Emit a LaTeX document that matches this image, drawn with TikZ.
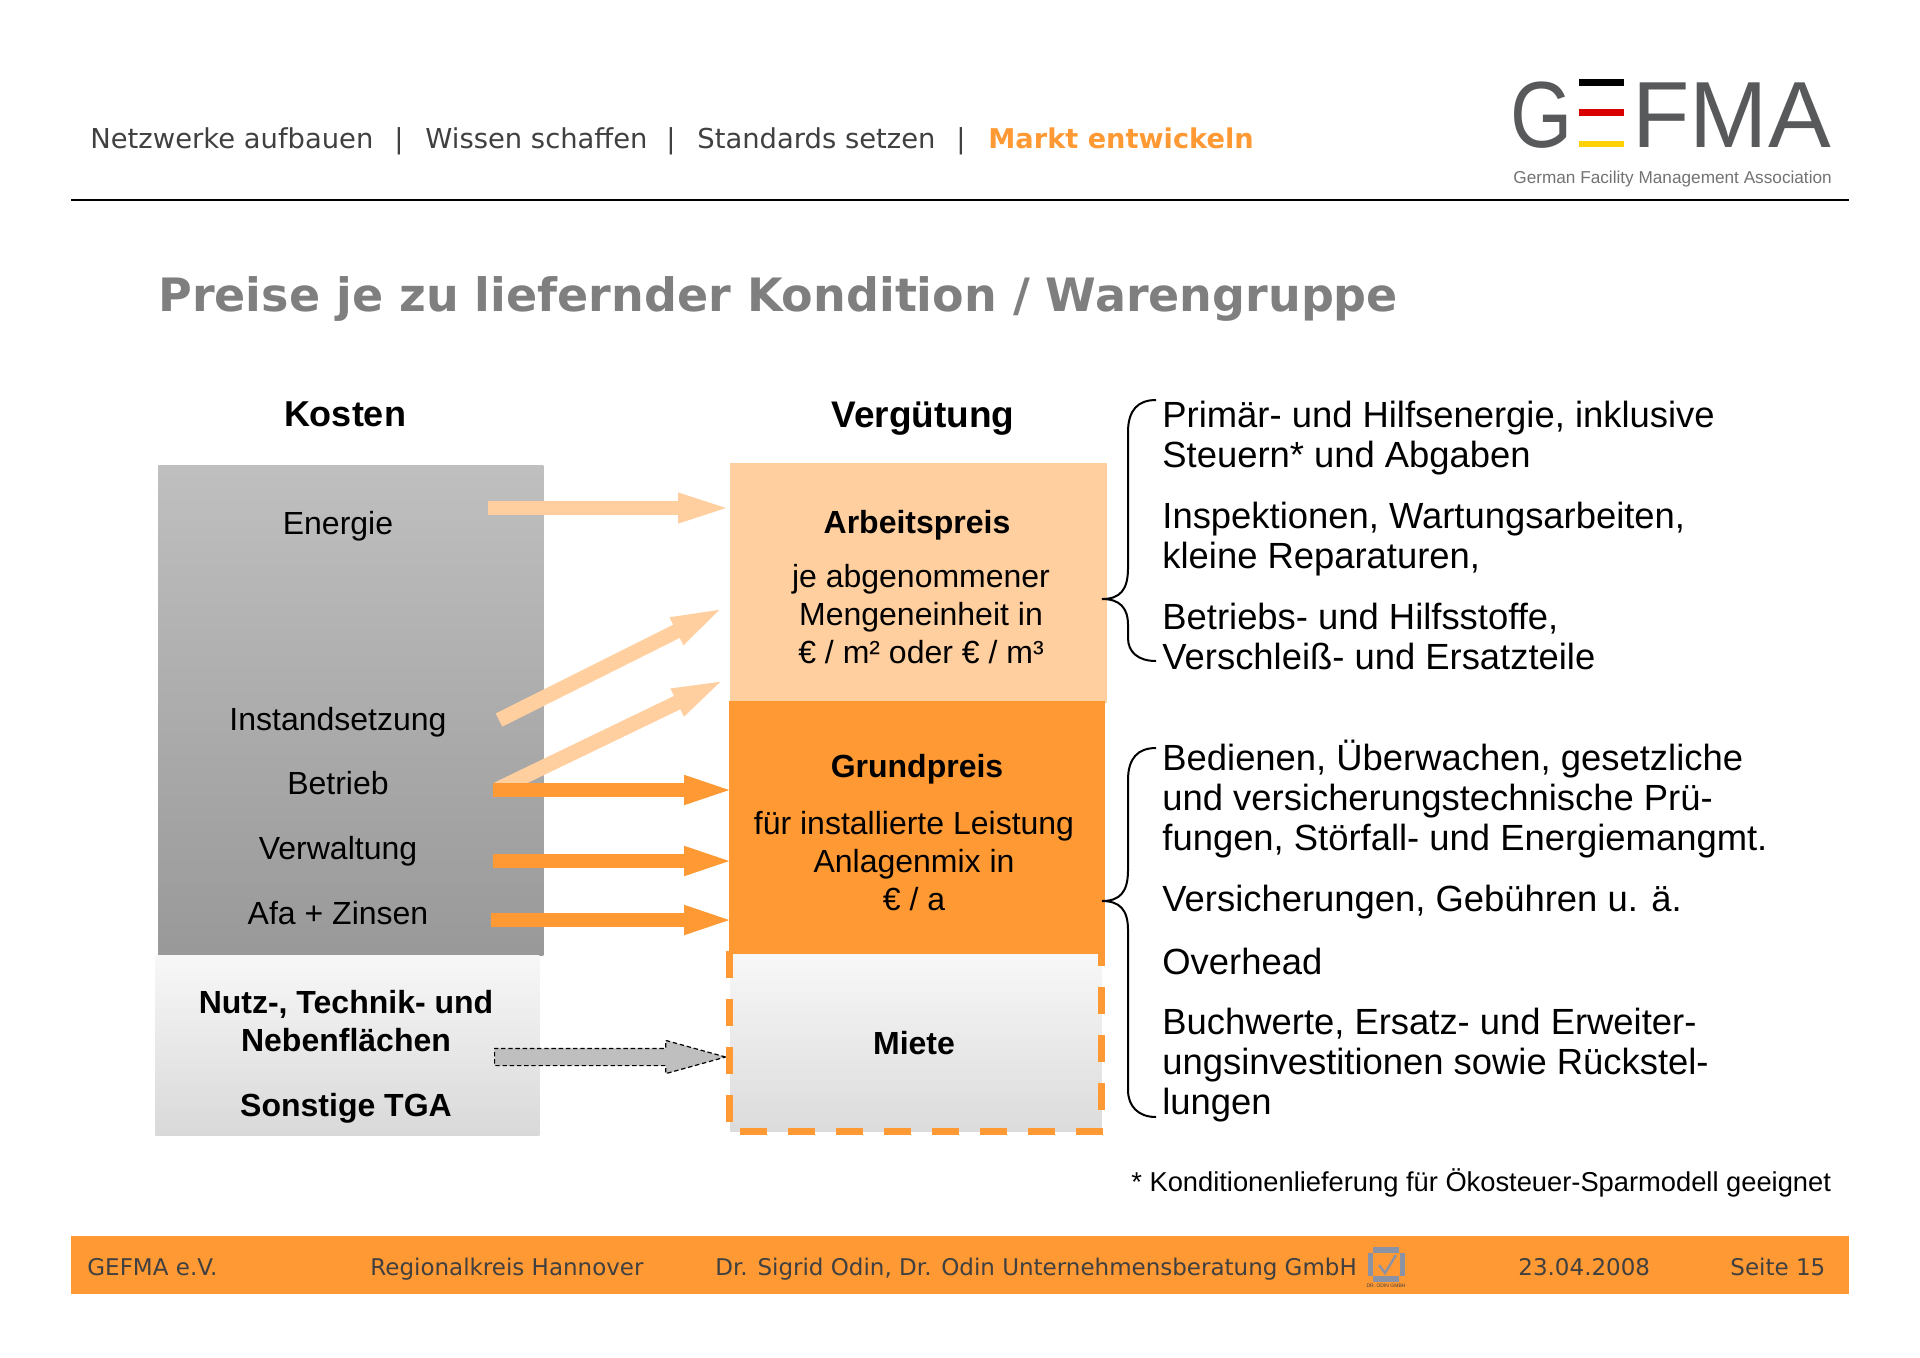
\documentclass[tikz,border=0pt]{standalone}
\usepackage{fontspec}
\usepackage{xcolor}
\usepackage{tikz}
\setmainfont{Liberation Sans}
\newfontfamily\navfont{DejaVu Sans}
\usetikzlibrary{shapes.arrows, arrows.meta, calc}
\definecolor{gefmaorange}{HTML}{FF9933}
\definecolor{gefmapeach}{HTML}{FFCF9F}
\definecolor{navgrey}{HTML}{404040}
\definecolor{titlegrey}{HTML}{7F7F7F}
\definecolor{logogrey}{HTML}{58595B}
\definecolor{logoblue}{HTML}{8A93A5}
\newcommand{\px}{0.5pt}
\tikzstyle{costlabel} = [inner sep=0, font=\fontsize{16}{19}\selectfont, align=center]
\tikzstyle{boldlabel} = [inner sep=0, font=\fontsize{16}{19}\selectfont\bfseries, align=center]
\tikzstyle{headlabel} = [inner sep=0, font=\fontsize{18}{20}\selectfont\bfseries]
\tikzstyle{notelabel} = [anchor=west, inner sep=0, align=left, font=\fontsize{18.2}{20}\selectfont]
\tikzstyle{navlabel} = [anchor=base west, inner sep=0, text=navgrey, font=\navfont\fontsize{13.7}{16}\selectfont]
\tikzstyle{footlabel} = [anchor=base west, inner sep=0, text=navgrey, font=\navfont\fontsize{11.5}{14}\selectfont]
\tikzstyle{blockbox} = [rectangle, anchor=north west, inner sep=0]
\tikzstyle{peacharrow} = [line width=7.4pt, gefmapeach, shorten >=-4.5pt, -{Triangle[length=30.5pt, width=12.5pt]}]
\tikzstyle{orangearrow} = [line width=7.4pt, gefmaorange, shorten >=-4.5pt, -{Triangle[length=27pt, width=12.5pt]}]
\tikzstyle{rentdash} = [line width=3.5pt, gefmaorange, dash pattern=on 13.5pt off 10.5pt]
\tikzstyle{bracket} = [line width=1pt, black]

\begin{document}
\begin{tikzpicture}[x=\px, y=-\px]
    \useasboundingbox (0,0) rectangle (1920,1357);
    
    \node[navlabel] (nav1) at (90,148) {Netzwerke aufbauen};
    \node[navlabel] (sep1) at (394,148) {|};
    \node[navlabel] (nav2) at (425,148) {Wissen schaffen};
    \node[navlabel] (sep2) at (666,148) {|};
    \node[navlabel] (nav3) at (697,148) {Standards setzen};
    \node[navlabel] (sep3) at (956,148) {|};
    \node[navlabel, text=gefmaorange, font=\navfont\fontsize{13.6}{16}\selectfont\bfseries] (nav4) at (988,148) {Markt entwickeln};
    \coordinate (ruleleft) at (71,200);
    \coordinate (ruleright) at (1849,200);
    \draw[line width=1pt, black] (ruleleft) -- (ruleright);
    
    \node[anchor=base west, inner sep=0, text=logogrey, font=\fontsize{47}{50}\selectfont, xscale=0.85, transform shape] (logog) at (1510,147) {G};
    \node[anchor=base west, inner sep=0, text=logogrey, font=\fontsize{47}{50}\selectfont] (logofma) at (1632,147) {FMA};
    \fill[black] (1579,79) rectangle (1624,86);
    \fill[red!85!black] (1579,109) rectangle (1624,116);
    \fill[yellow!70!orange] (1579,141) rectangle (1624,147);
    \node[anchor=west, inner sep=0, text=logogrey!85, font=\fontsize{8.6}{10}\selectfont] (tagline) at (1513,179) {German Facility Management Association};
    
    \node[anchor=west, inner sep=0, text=titlegrey, font=\navfont\fontsize{23}{28}\selectfont\bfseries] (title) at (158,299) {Preise je zu liefernder Kondition / Warengruppe};
    
    \node[headlabel] (kosten) at (345,414) {Kosten};
    \node[headlabel, font=\fontsize{18.5}{20}\selectfont\bfseries] (verguetung) at (923,419) {Vergütung};
    
    \node[blockbox, minimum width=385*\px, minimum height=490*\px, top color=black!25, bottom color=black!40] (costbox) at (158,465) {};
    \node[blockbox, minimum width=384*\px, minimum height=180*\px, top color=black!3, bottom color=black!15] (areabox) at (155,955) {};
    \node[blockbox, minimum width=377*\px, minimum height=240*\px, fill=gefmapeach] (arbeitbox) at (730,463) {};
    \node[blockbox, minimum width=376*\px, minimum height=254*\px, fill=gefmaorange] (grundbox) at (729,701) {};
    \node[blockbox, minimum width=371*\px, minimum height=177*\px, top color=black!3, bottom color=black!14] (mietebox) at (730,954) {};
    
    \coordinate (leftdashtop) at (729,951);
    \coordinate (leftdashend) at (729,1122);
    \coordinate (rightdashtop) at (1101,939);
    \coordinate (rightdashend) at (1101,1110);
    \coordinate (lowdashleft) at (740,1131);
    \coordinate (lowdashright) at (1105,1131);
    \draw[rentdash] (leftdashtop) -- (leftdashend);
    \draw[rentdash] (rightdashtop) -- (rightdashend);
    \draw[rentdash] (lowdashleft) -- (lowdashright);
    
    \foreach \name/\y/\label in {energie/526/Energie, instand/722/Instandsetzung, betrieb/783/Betrieb, verwaltung/851/Verwaltung, afa/913/Afa + Zinsen}
        \node[costlabel] (\name) at (338,\y) {\label};
    \node[boldlabel] (nutz) at (346,1021) {Nutz-, Technik- und\\Nebenflächen};
    \node[boldlabel] (tga) at (346,1108) {Sonstige TGA};
    \node[boldlabel] (arbeit) at (917,525) {Arbeitspreis};
    \node[costlabel] (arbeittext) at (921,614) {je abgenommener\\Mengeneinheit in\\€ / m² oder € / m³};
    \node[boldlabel] (grund) at (917,769) {Grundpreis};
    \node[costlabel] (grundtext) at (914,861) {für installierte Leistung\\Anlagenmix in\\€ / a};
    \node[boldlabel] (miete) at (914,1043) {Miete};
    
    \coordinate (energietail) at (488,508);
    \coordinate (instandtail) at (499,720);
    \coordinate (instandtip) at (723,608);
    \coordinate (betriebtail) at (498,789);
    \coordinate (betriebtip) at (724,680);
    \draw[peacharrow] (energietail) -- (energietail -| arbeitbox.west);
    \draw[peacharrow] (instandtail) -- (instandtip);
    \draw[peacharrow] (betriebtail) -- (betriebtip);
    \foreach \tail/\x/\y in {tailb/493/790, tailv/493/861, taila/491/920} {
        \coordinate (\tail) at (\x,\y);
        \draw[orangearrow] (\tail) -- (\tail -| grundbox.west);
    }
    \node[single arrow, anchor=tail, inner sep=0, inner ysep=4pt, minimum height=231*\px, minimum width=32*\px, single arrow head extend=8*\px, single arrow head indent=0pt, single arrow tip angle=31, fill=black!25, draw=black, line width=0.6pt, dash pattern=on 2.2pt off 1.4pt] (rentarrow) at (494,1057) {};
    
    \draw[bracket] (1156,400) .. controls (1138,400) and (1128,410) .. (1128,432) -- (1128,568) .. controls (1128,590) and (1120,599) .. (1102,599) .. controls (1120,599) and (1128,608) .. (1128,625) -- (1128,638) .. controls (1128,652) and (1138,661) .. (1156,661);
    \draw[bracket] (1156,748) .. controls (1138,748) and (1128,758) .. (1128,780) -- (1128,870) .. controls (1128,892) and (1120,901) .. (1102,901) .. controls (1120,901) and (1128,910) .. (1128,930) -- (1128,1090) .. controls (1128,1106) and (1138,1117) .. (1156,1117);
    
    \node[notelabel] (note1) at (1162,438) {Primär- und Hilfsenergie, inklusive\\Steuern* und Abgaben};
    \node[notelabel] (note2) at (1162,539) {Inspektionen, Wartungsarbeiten,\\kleine Reparaturen,};
    \node[notelabel] (note3) at (1162,636) {Betriebs- und Hilfsstoffe,\\Verschleiß- und Ersatzteile};
    \node[notelabel] (note4) at (1162,799) {Bedienen, Überwachen, gesetzliche\\und versicherungstechnische Prü-\\fungen, Störfall- und Energiemangmt.};
    \node[notelabel] (note5) at (1162,902) {Versicherungen, Gebühren u. ä.};
    \node[notelabel] (note6) at (1162,961) {Overhead};
    \node[notelabel] (note7) at (1162,1065) {Buchwerte, Ersatz- und Erweiter-\\ungsinvestitionen sowie Rückstel-\\lungen};
    \node[notelabel, font=\fontsize{13.65}{17}\selectfont] (footnote) at (1131,1183) {* Konditionenlieferung für Ökosteuer-Sparmodell geeignet};
    
    \fill[gefmaorange] (71,1236) rectangle (1849,1294);
    \node[footlabel] (foot1) at (87,1275) {GEFMA e.V.};
    \node[footlabel] (foot2) at (370,1275) {Regionalkreis Hannover};
    \node[footlabel] (foot3) at (715,1275) {Dr. Sigrid Odin, Dr. Odin Unternehmensberatung GmbH};
    \node[footlabel] (foot4) at (1518,1275) {23.04.2008};
    \node[footlabel] (foot5) at (1730,1275) {Seite 15};
    
    \fill[logoblue] (1373,1247) rectangle (1399,1253);
    \fill[logoblue] (1373,1276) rectangle (1399,1282);
    \fill[logoblue] (1368,1253) rectangle (1373,1276);
    \fill[logoblue] (1400,1253) rectangle (1405,1276);
    \draw[logoblue, line width=1.2pt] (1379,1265) -- (1385,1273) -- (1396,1255);
    \node[inner sep=0, text=navgrey, font=\fontsize{2.5}{3}\selectfont] (odinmark) at (1386,1286) {DR. ODIN GMBH};
\end{tikzpicture}
\end{document}
